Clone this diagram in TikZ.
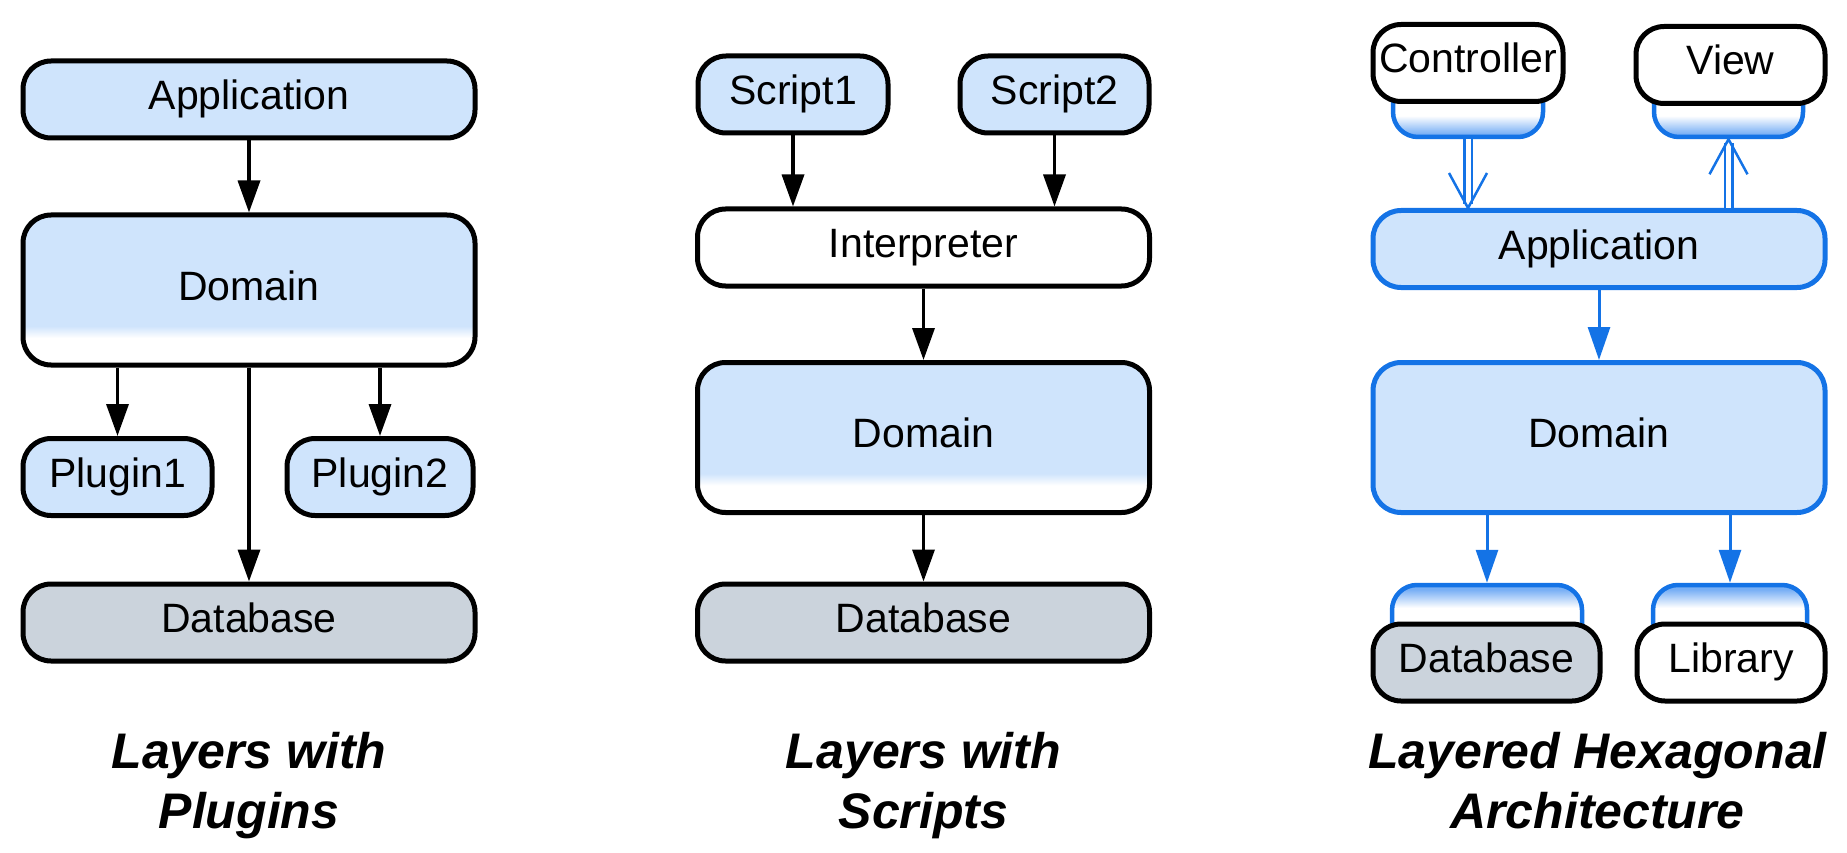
\documentclass[tikz,border=0pt]{standalone}
\usepackage{fontspec}
\setmainfont{Liberation Sans}
\usetikzlibrary{arrows.meta}

\definecolor{boxfill}{RGB}{207,228,252}
\definecolor{dbfill}{RGB}{203,211,220}
\definecolor{hexblue}{RGB}{20,115,230}
\definecolor{portblue}{RGB}{120,175,245}

\pgfdeclareverticalshading{domainfade}{100bp}{color(0bp)=(white); color(34bp)=(white);
  color(38bp)=(boxfill); color(100bp)=(boxfill)}
\pgfdeclareverticalshading{portdown}{100bp}{color(0bp)=(portblue); color(27bp)=(portblue);
  color(39bp)=(white); color(100bp)=(white)}
\pgfdeclareverticalshading{portup}{100bp}{color(0bp)=(white); color(60bp)=(white);
  color(72bp)=(portblue); color(100bp)=(portblue)}

\begin{document}
\begin{tikzpicture}[x=1pt, y=-1pt,
    layer/.style={draw, line width=5pt, rounded corners=28pt, inner sep=0pt,
                  font=\fontsize{41}{48}\selectfont, text height=30pt, text depth=10pt,
                  minimum height=#1},
    layer/.default=77pt,
    bluebox/.style={fill=boxfill},
    dbbox/.style={fill=dbfill},
    plainbox/.style={fill=white},
    domainbox/.style={layer=150pt, shade, shading=domainfade},
    hexbox/.style={draw=hexblue, fill=boxfill},
    port/.style={draw=hexblue, line width=4.5pt, rounded corners=25pt, shade,
                 minimum height=76pt, inner sep=0pt},
    arr/.style={line width=3.5pt, -{Triangle[width=22pt,length=32pt]}},
    hexarr/.style={hexblue, line width=3pt, -{Triangle[width=22pt,length=33pt]}},
    dblarr/.style={draw=hexblue, double=white, line width=2.5pt, double distance=5pt},
    vhead/.style={hexblue, line width=2.5pt},
    title/.style={font=\fontsize{50}{60}\selectfont\bfseries\itshape, align=center}]

  \useasboundingbox (0,0) rectangle (1847,853);

  \node[layer, bluebox, minimum width=452pt]      (app1)  at ( 249,  99.5) {Application};
  \node[domainbox, minimum width=452pt]           (dom1)  at ( 249, 290)   {Domain};
  \node[layer, bluebox, minimum width=189pt]      (plug1) at ( 117.5, 477) {Plugin1};
  \node[layer, bluebox, minimum width=186pt]      (plug2) at ( 380, 477)   {Plugin2};
  \node[layer, dbbox, minimum width=452pt]        (db1)   at ( 249, 622.5) {Database};

  \draw[arr] (app1) -- (dom1);
  \draw[arr] (dom1.south -| plug1.north) -- (plug1.north);
  \draw[arr] (dom1.south -| plug2.north) -- (plug2.north);
  \draw[arr] (dom1) -- (db1);

  \node[layer, bluebox, minimum width=190pt]      (scr1)  at ( 793,  94.5) {Script1};
  \node[layer, bluebox, minimum width=189pt]      (scr2)  at (1054.5, 94.5) {Script2};
  \node[layer, plainbox, minimum width=452pt]     (intp)  at ( 923.5, 247.5) {Interpreter};
  \node[domainbox, minimum width=452pt]           (dom2)  at ( 923.5, 437.5) {Domain};
  \node[layer, dbbox, minimum width=452pt]        (db2)   at ( 923.5, 622.5) {Database};

  \draw[arr] (scr1) -- (scr1 |- intp.north);
  \draw[arr] (scr2) -- (scr2 |- intp.north);
  \draw[arr] (intp) -- (dom2);
  \draw[arr] (dom2) -- (db2);

  \node[port, shading=portdown, minimum width=150pt] (ctrlport) at (1468,   99)   {};
  \node[port, shading=portdown, minimum width=149pt] (viewport) at (1728.5, 99)   {};
  \node[layer, plainbox, minimum width=190pt]     (ctrl)  at (1468,   63)   {Controller};
  \node[layer, plainbox, minimum width=189pt]     (view)  at (1730.5, 65)   {View};
  \node[layer, hexbox, minimum width=452pt]       (app3)  at (1599,  249)   {Application};
  \node[layer=150pt, hexbox, minimum width=452pt] (dom3)  at (1599,  437.5) {Domain};
  \node[port, shading=portup, minimum width=190pt]   (dbport)  at (1487, 623) {};
  \node[port, shading=portup, minimum width=154pt]   (libport) at (1730, 623) {};
  \node[layer, dbbox, minimum width=227pt]        (db3)   at (1486.5, 662.5) {Database};
  \node[layer, plainbox, minimum width=188pt]     (lib)   at (1731,  662.5) {Library};

  \draw[dblarr, shorten >=4pt] (ctrlport.south) -- (ctrlport.south |- app3.north);
  \draw[vhead] (ctrlport.south |- app3.north) ++(-19,-35)
            -- (ctrlport.south |- app3.north) -- ++(19,-35);
  \draw[dblarr, shorten >=4pt] (viewport.south |- app3.north) -- (viewport.south);
  \draw[vhead] (viewport.south) ++(-19,35)
            -- (viewport.south) -- ++(19,35);
  \draw[hexarr] (app3) -- (dom3);
  \draw[hexarr] (dom3.south -| dbport.north) -- (dbport.north);
  \draw[hexarr] (dom3.south -| libport.north) -- (libport.north);

  \node[title, anchor=base] (t1) at ( 249,   828) {Layers with\\Plugins};
  \node[title, anchor=base] (t2) at ( 923.5, 828) {Layers with\\Scripts};
  \node[title, anchor=base] (t3) at (1597.5, 828) {Layered Hexagonal\\Architecture};

\end{tikzpicture}
\end{document}
